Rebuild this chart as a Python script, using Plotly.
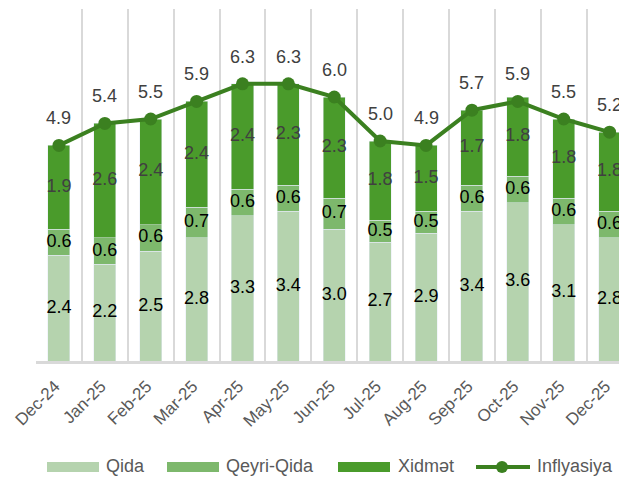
import plotly.graph_objects as go
import numpy as np

months = ["Dec-24", "Jan-25", "Feb-25", "Mar-25", "Apr-25", "May-25", "Jun-25",
          "Jul-25", "Aug-25", "Sep-25", "Oct-25", "Nov-25", "Dec-25"]
qida = [2.4, 2.2, 2.5, 2.8, 3.3, 3.4, 3.0, 2.7, 2.9, 3.4, 3.6, 3.1, 2.8]
qeyri_qida = [0.6, 0.6, 0.6, 0.7, 0.6, 0.6, 0.7, 0.5, 0.5, 0.6, 0.6, 0.6, 0.6]
xidmet = [1.9, 2.6, 2.4, 2.4, 2.4, 2.3, 2.3, 1.8, 1.5, 1.7, 1.8, 1.8, 1.8]
inflyasiya = [4.9, 5.4, 5.5, 5.9, 6.3, 6.3, 6.0, 5.0, 4.9, 5.7, 5.9, 5.5, 5.2]

C_QIDA = "#b5d3ae"
C_QEYRI = "#7db86c"
C_XIDMET = "#4a9b2b"
C_LINE = "#3b8020"
FONT = "Liberation Sans, Arial, sans-serif"

# page body has an 8px default margin; figure sized to fit the 627x479 window
OFF = 8
W, H = 627 - OFF, 479 - OFF
PL, PT, PB, PR = 36, 9, 361, 627   # plot area in window pixels
ML, MT = PL - OFF, PT - OFF
MB = H - (PB - OFF)
PW = (PR - OFF) - ML
PH = (PB - OFF) - MT

fig = go.Figure()
bw = 0.48
fig.add_trace(go.Bar(name="Qida", x=months, y=qida, marker_color=C_QIDA, width=bw))
fig.add_trace(go.Bar(name="Qeyri-Qida", x=months, y=qeyri_qida, marker_color=C_QEYRI, width=bw))
fig.add_trace(go.Bar(name="Xidmət", x=months, y=xidmet, marker_color=C_XIDMET, width=bw))

q = np.array(qida)
n = np.array(qeyri_qida)
s = np.array(xidmet)
segs = [(q / 2, qida, "#000000"),
        (q + n / 2, qeyri_qida, "#000000"),
        (q + n + s / 2, xidmet, "#404040")]
for ys, vals, col in segs:
    fig.add_trace(go.Scatter(x=months, y=ys, mode="text",
                             text=[f"{v:.1f}" for v in vals],
                             textfont=dict(size=18, color=col, family=FONT),
                             hoverinfo="skip", cliponaxis=False))

fig.add_trace(go.Scatter(name="Inflyasiya", x=months, y=inflyasiya, mode="lines+markers",
                         line=dict(color=C_LINE, width=4),
                         marker=dict(size=13, color=C_LINE)))

for m, v in zip(months, inflyasiya):
    fig.add_annotation(x=m, y=v, text=f"{v:.1f}", showarrow=False, yshift=27,
                       font=dict(size=18, color="#404040", family=FONT))

# manual legend, positioned in window pixels
def pshape(kind, x0, x1, y0, y1, **kw):
    return dict(type=kind, xref="paper", yref="paper", xsizemode="pixel", ysizemode="pixel",
                xanchor=0, yanchor=0, x0=x0 - PL, x1=x1 - PL,
                y0=PB - y0, y1=PB - y1, **kw)

def ptext(txt, x, y):
    return dict(text=txt, xref="paper", yref="paper", x=(x - PL) / PW, y=(PB - y) / PH,
                xanchor="left", yanchor="middle", showarrow=False,
                font=dict(size=18, color="#595959", family=FONT))

LY = 467
legend_items = [("Qida", C_QIDA, 47, 99, 104),
                ("Qeyri-Qida", C_QEYRI, 167, 219, 224),
                ("Xidmət", C_XIDMET, 338, 390, 396)]
shapes = []
for name, col, a, b, t in legend_items:
    shapes.append(pshape("rect", a, b, LY - 5, LY + 5, fillcolor=col, line=dict(width=0)))
    fig.add_annotation(**ptext(name, t, LY - 1))
shapes.append(pshape("line", 476, 530, LY, LY, line=dict(color=C_LINE, width=4)))
shapes.append(pshape("circle", 496, 508, LY - 6, LY + 6, fillcolor=C_LINE, line=dict(width=0)))
fig.add_annotation(**ptext("Inflyasiya", 535, LY - 1))

fig.update_layout(
    barmode="stack",
    width=W, height=H,
    margin=dict(l=ML, r=0, t=MT, b=MB, autoexpand=False),
    plot_bgcolor="white", paper_bgcolor="white",
    font=dict(family=FONT, color="#595959", size=17),
    showlegend=False,
    shapes=shapes,
    xaxis=dict(type="category", range=[-0.5, 12.38], tickangle=-45, tickson="boundaries",
               showgrid=True, gridcolor="#d9d9d9", gridwidth=2, automargin=False,
               showline=True, linecolor="#d9d9d9", linewidth=2.5, ticks="",
               ticklabelstandoff=6, ticklabelshift=-4,
               tickfont=dict(size=17, color="#595959")),
    yaxis=dict(range=[0, 8], showgrid=False, showticklabels=False, zeroline=False,
               showline=False, automargin=False),
)

fig.write_html("out.html")
